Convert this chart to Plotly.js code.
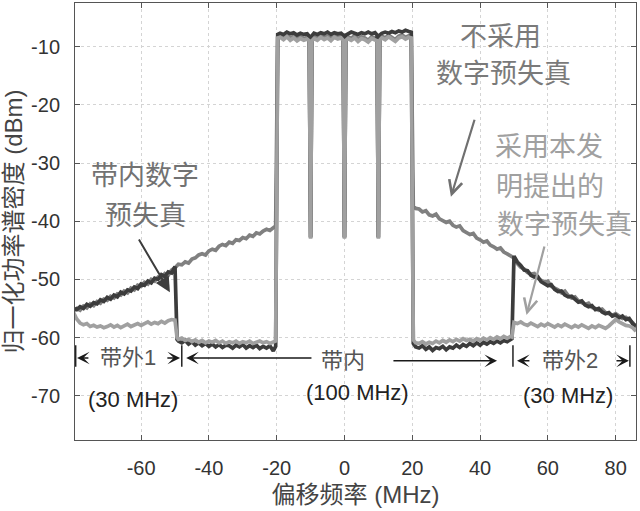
<!DOCTYPE html>
<html>
<head>
<meta charset="utf-8">
<script src="https://cdn.plot.ly/plotly-3.0.1.min.js"></script>
<style>
  html, body { margin: 0; padding: 0; background: #fff; }
  #psd-plot { width: 640px; height: 511px; }
</style>
</head>
<body>
<div id="psd-plot"></div>
<script>
// frequency offset grid (MHz), denser around the band edges and notches
const freqMHz = [
  -80, -79, -78, -77, -76, -75, -74, -73, -72, -71, -70, -69, -68, -67, -66, -65,
  -64, -63, -62, -61, -60, -59, -58, -57, -56, -55, -54, -53, -52, -51, -50, -49.4,
  -49, -48, -47, -46, -45, -44, -43, -42, -41, -40, -39, -38, -37, -36, -35, -34,
  -33, -32, -31, -30, -29, -28, -27, -26, -25, -24, -23, -22, -21, -20.3, -19.7,
  -19, -18, -17, -16, -15, -14, -13, -12, -11, -10.4, -10, -9.6,
  -9, -8, -7, -6, -5, -4, -3, -2, -1, -0.4, 0, 0.4,
  1, 2, 3, 4, 5, 6, 7, 8, 9, 9.6, 10, 10.4,
  11, 12, 13, 14, 15, 16, 17, 18, 19, 19.7, 20.3,
  21, 22, 23, 24, 25, 26, 27, 28, 29, 30, 31, 32, 33, 34, 35, 36,
  37, 38, 39, 40, 41, 42, 43, 44, 45, 46, 47, 48, 49, 49.4, 50,
  51, 52, 53, 54, 55, 56, 57, 58, 59, 60, 61, 62, 63, 64, 65, 66,
  67, 68, 69, 70, 71, 72, 73, 74, 75, 76, 77, 78, 79, 80, 81, 82,
  83, 84, 85, 86
];

// 不采用数字预失真
const psdNoDpd = [
  -55.4, -55.0, -55.3, -54.6, -54.9, -54.2, -54.5, -53.8, -54.1, -53.4, -53.6, -52.9, -53.2, -52.5, -52.7, -52.0,
  -52.3, -51.5, -51.8, -51.0, -51.2, -50.5, -50.8, -50.0, -50.3, -49.6, -49.8, -49.0, -49.3, -48.4, -48.0, -47.6,
  -47.4, -47.5, -47.0, -47.2, -46.5, -46.3, -45.8, -45.6, -45.8, -45.1, -44.8, -45.0, -44.3, -44.0, -44.2, -43.6,
  -43.8, -43.2, -43.3, -42.8, -43.0, -42.4, -42.6, -42.0, -42.2, -41.7, -41.4, -41.6, -41.0, -40.8, -8.4,
  -8.1, -8.5, -8.0, -8.6, -8.2, -8.7, -8.3, -8.6, -8.4, -8.8, -42.8, -8.7,
  -8.3, -8.5, -8.1, -8.4, -8.2, -8.6, -8.0, -8.3, -8.2, -8.6, -42.8, -8.5,
  -8.3, -8.6, -8.1, -8.7, -8.3, -8.5, -8.9, -8.3, -8.5, -8.7, -42.8, -8.6,
  -8.2, -8.5, -8.0, -8.4, -8.8, -8.2, -8.0, -8.4, -8.1, -8.2, -37.4,
  -37.8, -37.9, -38.4, -38.2, -38.9, -39.1, -38.8, -39.6, -39.9, -40.2, -40.0, -40.7, -41.0, -40.8, -41.6, -41.9,
  -42.3, -42.1, -42.9, -43.2, -43.6, -43.4, -44.1, -44.4, -44.8, -44.6, -45.3, -45.6, -45.9, -46.1, -46.3,
  -47.3, -47.9, -48.2, -48.8, -49.1, -49.0, -49.8, -50.2, -50.5, -50.3, -51.2, -51.5, -51.8, -52.3, -52.0, -52.8,
  -53.2, -53.0, -53.7, -54.0, -54.3, -54.1, -54.8, -55.0, -55.3, -55.1, -55.7, -55.9, -56.2, -55.9, -56.4, -56.7,
  -56.5, -57.0, -57.4, -58.3
];

// 带内数字预失真
const psdInbandDpd = [
  -55.0, -55.2, -54.7, -55.0, -54.3, -54.6, -54.0, -54.2, -53.5, -53.8, -53.1, -53.4, -52.7, -53.0, -52.2, -52.5,
  -51.8, -52.0, -51.3, -51.6, -50.8, -51.0, -50.3, -50.6, -49.8, -50.0, -49.2, -49.5, -48.7, -48.9, -47.8, -60.3,
  -60.6, -60.9, -60.5, -61.1, -60.7, -61.3, -60.9, -61.4, -61.0, -61.5, -61.1, -61.6, -61.2, -61.7, -61.3, -61.4,
  -61.8, -61.3, -61.6, -61.2, -61.8, -61.4, -61.7, -61.3, -61.9, -61.5, -61.8, -61.4, -62.3, -61.5, -7.9,
  -7.7, -7.9, -7.5, -7.8, -7.6, -8.0, -7.7, -7.9, -7.8, -8.2, -42.8, -8.1,
  -7.7, -7.9, -7.6, -7.8, -7.5, -7.9, -7.6, -7.8, -7.7, -8.0, -42.8, -8.0,
  -7.8, -7.5, -7.7, -7.9, -7.6, -7.8, -7.5, -7.8, -7.6, -8.0, -42.8, -8.0,
  -7.7, -7.5, -7.7, -7.4, -7.6, -7.3, -7.5, -7.2, -7.4, -7.5, -61.0,
  -61.6, -61.8, -61.4, -62.0, -61.6, -62.2, -61.7, -61.9, -61.5, -62.1, -61.6, -61.8, -61.3, -61.7, -61.2, -61.5,
  -61.0, -61.4, -60.9, -61.3, -60.8, -61.1, -60.7, -61.0, -60.6, -60.9, -60.5, -60.7, -60.3, -60.2, -46.0,
  -47.0, -47.6, -48.4, -48.5, -49.3, -49.6, -49.5, -50.4, -50.8, -51.1, -50.9, -51.7, -52.1, -52.0, -52.7, -53.0,
  -52.9, -53.5, -53.9, -53.7, -54.4, -54.7, -54.5, -55.2, -55.0, -55.6, -55.9, -55.7, -56.3, -56.1, -56.6, -56.3,
  -56.9, -56.7, -57.6, -58.0
];

// 采用本发明提出的数字预失真
const psdProposedDpd = [
  -55.6, -56.8, -57.5, -57.8, -57.6, -58.1, -57.9, -58.2, -58.0, -58.3, -58.1, -57.8, -58.2, -57.9, -58.3, -58.0,
  -57.7, -58.1, -57.8, -57.6, -57.9, -57.6, -57.3, -57.7, -57.4, -57.6, -57.2, -57.5, -57.1, -56.9, -57.0, -60.0,
  -60.3, -60.1, -60.5, -60.3, -60.7, -60.4, -60.8, -60.5, -60.9, -60.6, -60.8, -60.5, -60.9, -60.6, -61.0, -60.7,
  -60.9, -60.6, -61.0, -60.7, -60.9, -60.6, -61.0, -60.8, -60.6, -60.9, -60.7, -61.0, -60.8, -60.6, -8.5,
  -8.4, -8.8, -8.3, -8.9, -8.5, -9.0, -8.6, -8.9, -8.7, -9.0, -43.0, -9.0,
  -8.6, -8.9, -8.4, -8.8, -8.5, -9.0, -8.4, -8.7, -8.5, -8.9, -43.0, -8.9,
  -8.6, -8.9, -8.5, -9.1, -8.6, -8.8, -9.2, -8.6, -8.9, -9.0, -43.0, -8.9,
  -8.5, -8.8, -8.3, -8.7, -9.1, -8.5, -8.3, -8.7, -8.4, -8.5, -60.4,
  -60.9, -61.0, -60.7, -61.1, -60.8, -61.0, -60.6, -60.9, -60.5, -60.8, -60.4, -60.7, -60.3, -60.6, -60.2, -60.5,
  -60.3, -60.6, -60.2, -60.5, -60.1, -60.4, -60.0, -60.3, -59.9, -60.2, -59.8, -60.1, -59.8, -59.9, -57.4,
  -57.6, -57.3, -57.7, -57.9, -57.5, -57.8, -58.1, -57.7, -58.0, -57.6, -57.9, -58.2, -57.8, -58.1, -57.7, -58.0,
  -58.3, -57.9, -58.2, -57.8, -58.1, -58.4, -58.0, -58.3, -57.9, -58.2, -58.4, -58.0, -57.4, -56.9, -57.3, -57.6,
  -57.9, -58.0, -58.3, -58.9
];

const xTicks = [-60, -40, -20, 0, 20, 40, 60, 80];
const xTickText = ['-60', '-40', '-20', '0', '20', '40', '60', '80'];
const yTicks = [-70, -60, -50, -40, -30, -20, -10];
const yTickText = ['-70', '-60', '-50', '-40', '-30', '-20', '-10'];

const latinCjk = 'Liberation Sans, Noto Sans CJK SC, sans-serif';

const traces = [
  { x: freqMHz, y: psdNoDpd, mode: 'lines', line: { color: '#808080', width: 3.7 }, name: '不采用数字预失真' },
  { x: freqMHz, y: psdInbandDpd, mode: 'lines', line: { color: '#3c3c3c', width: 3.7 }, name: '带内数字预失真' },
  { x: freqMHz, y: psdProposedDpd, mode: 'lines', line: { color: '#a0a0a0', width: 3.7 }, name: '采用本发明提出的数字预失真' }
];

function label(text, x, y, size, color) {
  return {
    text: text, x: x, y: y, xref: 'x', yref: 'y', showarrow: false,
    xanchor: 'center', yanchor: 'middle',
    font: { family: latinCjk, size: size, color: color }
  };
}

function arrow(x, y, ax, ay, color, head, width, size) {
  return {
    text: '', x: x, y: y, ax: ax, ay: ay, xref: 'x', yref: 'y', axref: 'x', ayref: 'y',
    showarrow: true, arrowhead: head, arrowcolor: color, arrowwidth: width, arrowsize: size,
    standoff: 0, startstandoff: 0
  };
}

const annotations = [
  label('不采用', 45.9, -8.3, 27, '#7a7a7a'),
  label('数字预失真', 47.0, -14.7, 27, '#7a7a7a'),
  label('采用本发', 60.3, -27.2, 27, '#a0a0a0'),
  label('明提出的', 60.6, -34.1, 27, '#a0a0a0'),
  label('数字预失真', 64.8, -40.6, 27, '#a0a0a0'),
  label('带内数字', -58.9, -32.2, 27, '#727272'),
  label('预失真', -58.6, -39.1, 27, '#727272'),
  label('带外1', -63.9, -63.5, 22, '#555'),
  label('(30 MHz)', -62.4, -70.7, 22, '#222'),
  label('带内', -0.4, -64.0, 22, '#555'),
  label('(100 MHz)', 3.7, -69.5, 22, '#222'),
  label('带外2', 66.5, -64.0, 22, '#555'),
  label('(30 MHz)', 65.9, -69.9, 22, '#222'),
  arrow(-51.5, -52.2, -60.9, -42.9, '#3c3c3c', 2, 2, 1.5),
  arrow(31.4, -35.8, 38.5, -22.3, '#707070', 5, 2.2, 1.2),
  arrow(53.7, -56.1, 59.1, -44.1, '#a0a0a0', 5, 2.2, 1.2),
  arrow(-78.9, -63.5, -75.1, -63.5, '#1a1a1a', 3, 1.5, 1.4),
  arrow(-48.5, -63.5, -52.7, -63.5, '#1a1a1a', 3, 1.5, 1.4),
  arrow(-46.7, -63.5, -9.3, -63.5, '#1a1a1a', 3, 1.5, 1.4),
  arrow(45.0, -64.0, 14.0, -64.0, '#1a1a1a', 3, 1.5, 1.4),
  arrow(50.9, -64.0, 55.0, -64.0, '#1a1a1a', 3, 1.5, 1.4),
  arrow(83.9, -64.0, 79.8, -64.0, '#1a1a1a', 3, 1.5, 1.4)
];

const bandEdges = [-79.3, -48.0, 49.7, 84.2];
const shapes = bandEdges.map(f => ({
  type: 'line', xref: 'x', yref: 'y', x0: f, x1: f, y0: -61.3, y1: -65.0,
  line: { color: '#222', width: 1.5 }
}));

const layout = {
  width: 640,
  height: 511,
  margin: { l: 75, r: 4, t: 3, b: 71 },
  showlegend: false,
  plot_bgcolor: '#fff',
  paper_bgcolor: '#fff',
  font: { family: latinCjk, color: '#333' },
  xaxis: {
    range: [-79.5, 86],
    tickvals: xTicks,
    ticktext: xTickText,
    ticks: 'inside', ticklen: 5, tickcolor: '#555',
    showline: true, linecolor: '#555', linewidth: 1, mirror: 'ticks',
    showgrid: true, gridcolor: '#d4d4d4', griddash: 'dot',
    zeroline: false,
    ticklabelstandoff: 10,
    tickfont: { family: latinCjk, size: 20, color: '#333' },
    title: { text: '偏移频率 (MHz)', standoff: 8, font: { family: latinCjk, size: 24, color: '#444' } }
  },
  yaxis: {
    range: [-77.6, -2.5],
    tickvals: yTicks,
    ticktext: yTickText,
    ticks: 'inside', ticklen: 5, tickcolor: '#555',
    showline: true, linecolor: '#555', linewidth: 1, mirror: 'ticks',
    showgrid: true, gridcolor: '#d4d4d4', griddash: 'dot',
    zeroline: false,
    ticklabelstandoff: 10,
    tickfont: { family: latinCjk, size: 20, color: '#333' },
    title: { text: '归一化功率谱密度 (dBm)', standoff: 4, font: { family: latinCjk, size: 24, color: '#444' } }
  },
  annotations: annotations,
  shapes: shapes
};

Plotly.newPlot('psd-plot', traces, layout, { displayModeBar: false, staticPlot: true });
</script>
</body>
</html>
